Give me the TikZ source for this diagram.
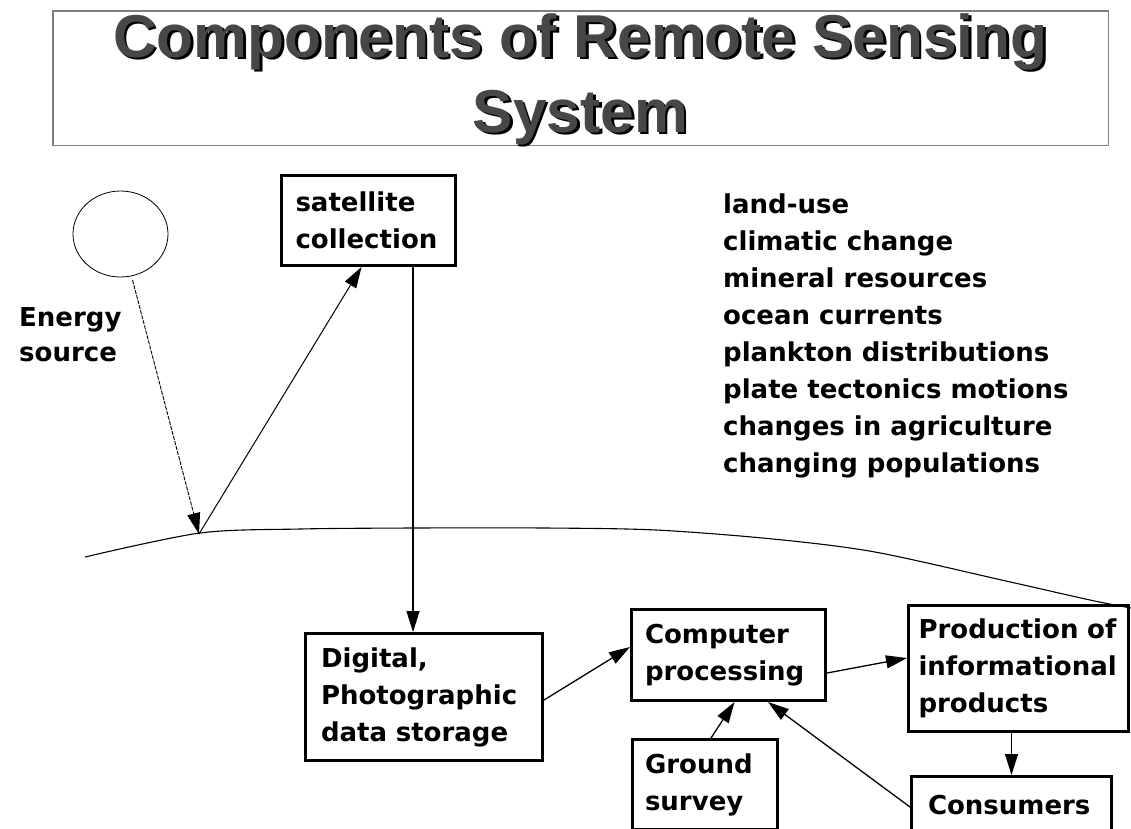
\documentclass[tikz,border=0pt]{standalone}
\usepackage{fontspec}
\setsansfont{DejaVu Sans}
\newfontfamily\titlefont{Liberation Sans}
\usetikzlibrary{arrows.meta,shapes.geometric}

% sombra del titulo
\newcommand{\sombra}[1]{\rlap{\textcolor{black}{\hspace{2.5pt}\raisebox{-2.5pt}{#1}}}#1}

\begin{document}
\begin{tikzpicture}[x=1pt,y=-1pt,
		caja/.style={draw, line width=3pt, inner sep=0pt, align=left,
			font=\sffamily\bfseries\fontsize{26}{37}\selectfont},
		texto/.style={inner sep=0pt, align=left,
			font=\sffamily\bfseries\fontsize{26}{37}\selectfont},
		titulo/.style={inner sep=0pt, text=black!72, font=\titlefont\bfseries\fontsize{60.5}{70}\selectfont},
		flecha/.style={-{Triangle[length=21pt,width=13pt]}, line width=1.3pt}]
	\useasboundingbox (0,0) rectangle (1131,828);
	\clip (0,0) rectangle (1131,828);
	\fill[white] (0,0) rectangle (1131,828);
	
	% Titulo
	\node[draw=black!50, line width=1.5pt, minimum width=1055.5pt, minimum height=134.5pt] (marco) at (580.5,78) {};
	\node[titulo, anchor=base] (tit1) at (580.5,57) {\sombra{Components of Remote Sensing}};
	\node[titulo, anchor=base] (tit2) at (580.5,132) {\sombra{System}};
	
	% Fuente de energia
	\node[draw, ellipse, minimum width=95pt, minimum height=86pt, inner sep=0pt, line width=0.8pt] (sol) at (120.5,234) {};
	\node[texto, anchor=west, font=\sffamily\bfseries\fontsize{26}{35}\selectfont] (fuente) at (19,335) {Energy\\source};
	
	% Superficie terrestre
	\draw[line width=1.1pt] plot[smooth] coordinates {(85,557) (200,533) (300,529) (413,528) (545,528) (656,530) (773,539) (875,552) (1006,581) (1090,600) (1131,608)};
	\coordinate (impacto) at (199,534);
	
	% Aplicaciones
	\node[texto, anchor=west] (usos) at (723,336) {land-use\\climatic change\\mineral resources\\ocean currents\\plankton distributions\\plate tectonics motions\\changes in agriculture\\changing populations};
	
	% Cajas
	\node[caja, minimum width=174pt, minimum height=90pt, text width=146pt] (sat) at (368.5,220.5) {satellite\\collection};
	\node[caja, minimum width=237pt, minimum height=127pt, text width=206pt] (dig) at (424,697) {Digital,\\Photographic\\data storage};
	\node[caja, minimum width=194pt, minimum height=91pt, text width=167pt] (comp) at (728.5,655) {Computer\\processing};
	\node[caja, minimum width=145pt, minimum height=90pt, text width=120pt] (ground) at (705,784.5) {Ground\\survey};
	\node[caja, minimum width=220pt, minimum height=126pt, text width=200pt] (prod) at (1018.5,668.5) {Production of\\informational\\products};
	\node[caja, minimum width=200pt, minimum height=57pt, text width=167pt] (cons) at (1011.5,805) {Consumers};
	
	% Flechas
	\draw[flecha, line width=0.9pt, dash pattern=on 4pt off 1.2pt, shorten <=4pt] (sol) -- (impacto);
	\draw[flecha, line width=1pt] (impacto) -- ([xshift=-7pt]sat.south);
	\draw[flecha] ([xshift=44.5pt]sat.south) -- ([xshift=44.5pt]sat.south |- dig.north);
	\draw[flecha] ([yshift=-3pt]dig.east) -- ([yshift=8pt]comp.west);
	\draw[flecha] ([yshift=-18pt]comp.east) -- ([yshift=10.5pt]prod.west);
	\draw[flecha] ([xshift=6pt]ground.north) -- ([xshift=6pt]comp.south);
	\draw[flecha] ([yshift=-2pt]cons.west) -- ([xshift=39.5pt]comp.south);
	\draw[flecha] (prod.south -| cons.north) -- (cons.north);
\end{tikzpicture}
\end{document}
